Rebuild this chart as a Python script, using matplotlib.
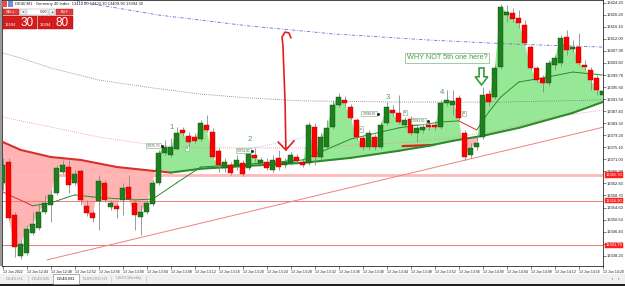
import numpy as np
import matplotlib.pyplot as plt
from matplotlib.patches import Rectangle, FancyArrow
from matplotlib.collections import LineCollection
import matplotlib.transforms as mtransforms

plt.rcParams['font.family'] = ['Liberation Sans', 'DejaVu Sans']

W, H = 625, 286

# DE40 M1 candles, 13 Jun 12:40 .. 14:20
opens = [13363.0, 13370.1, 13352.1, 13338.2, 13339.2, 13346.0, 13347.7, 13353.1, 13355.5, 13359.6,
         13366.7, 13368.4, 13363.0, 13367.1, 13355.2, 13352.8, 13356.9, 13363.0, 13354.8, 13355.2,
         13357.2, 13361.6, 13356.2, 13351.4, 13353.1, 13355.8, 13363.0, 13373.2, 13372.5, 13374.6,
         13381.0, 13379.0, 13378.6, 13377.9, 13382.7, 13380.3, 13373.9, 13368.1, 13369.1, 13368.8,
         13369.8, 13368.1, 13372.5, 13369.8, 13370.1, 13367.4, 13371.5, 13369.1, 13369.8, 13371.8,
         13370.1, 13369.8, 13382.0, 13371.8, 13375.2, 13382.0, 13389.5, 13391.2, 13388.8, 13384.4,
         13378.3, 13375.2, 13378.6, 13375.2, 13383.4, 13387.8, 13386.8, 13382.7, 13384.8, 13380.0,
         13381.0, 13382.7, 13382.7, 13382.0, 13390.2, 13389.5, 13391.9, 13380.0, 13372.5, 13375.2,
         13378.6, 13393.2, 13392.2, 13402.4, 13420.1, 13420.8, 13419.1, 13416.7, 13409.2, 13402.1,
         13398.7, 13397.0, 13403.1, 13403.8, 13412.6, 13408.5, 13409.2, 13403.1, 13401.4, 13398.7,
         13392.9]
highs = [13371.5, 13371.5, 13353.1, 13343.6, 13348.7, 13353.1, 13356.2, 13358.9, 13360.6, 13369.1,
         13370.8, 13370.8, 13367.4, 13367.8, 13357.2, 13353.8, 13365.7, 13364.0, 13357.2, 13356.2,
         13363.0, 13365.7, 13357.2, 13355.5, 13357.2, 13364.0, 13374.2, 13377.6, 13378.3, 13382.0,
         13382.0, 13380.3, 13380.0, 13384.4, 13386.1, 13381.7, 13374.9, 13371.5, 13370.1, 13372.5,
         13370.8, 13374.2, 13374.9, 13371.8, 13371.5, 13372.5, 13374.2, 13371.5, 13373.5, 13372.8,
         13371.1, 13383.7, 13383.4, 13380.0, 13384.4, 13391.2, 13393.6, 13392.6, 13389.8, 13385.1,
         13379.3, 13381.0, 13379.6, 13383.7, 13390.5, 13389.5, 13392.9, 13385.4, 13385.8, 13382.7,
         13383.7, 13384.1, 13384.1, 13391.2, 13394.6, 13394.6, 13392.9, 13381.0, 13376.6, 13378.6,
         13395.6, 13394.6, 13403.1, 13423.8, 13423.5, 13422.5, 13421.8, 13418.4, 13409.9, 13402.8,
         13399.7, 13404.8, 13406.5, 13413.3, 13415.0, 13411.6, 13414.0, 13404.8, 13402.4, 13399.7,
         13394.6]
lows = [13360.6, 13350.4, 13337.8, 13337.1, 13338.5, 13345.3, 13347.0, 13352.4, 13349.7, 13358.9,
        13366.0, 13359.6, 13362.3, 13355.5, 13351.8, 13349.7, 13347.0, 13356.5, 13353.8, 13351.1,
        13352.1, 13357.2, 13347.0, 13345.3, 13352.4, 13355.2, 13362.3, 13372.5, 13371.8, 13374.2,
        13379.0, 13375.2, 13376.6, 13377.3, 13380.3, 13371.5, 13366.7, 13366.7, 13365.7, 13367.4,
        13365.4, 13367.4, 13370.1, 13368.8, 13367.4, 13366.7, 13367.4, 13368.1, 13369.1, 13369.4,
        13368.4, 13369.1, 13369.1, 13370.8, 13374.2, 13381.3, 13388.8, 13388.8, 13384.4, 13377.6,
        13374.2, 13374.2, 13374.2, 13374.6, 13382.7, 13385.8, 13383.0, 13381.7, 13379.3, 13376.9,
        13380.0, 13381.0, 13381.0, 13381.3, 13389.2, 13386.1, 13384.4, 13370.8, 13371.5, 13374.2,
        13377.9, 13389.2, 13391.5, 13401.7, 13417.7, 13417.7, 13415.7, 13409.9, 13401.4, 13397.3,
        13393.9, 13396.0, 13401.4, 13402.8, 13406.5, 13407.5, 13403.1, 13401.4, 13394.6, 13392.9,
        13392.6]
closes = [13369.1, 13351.1, 13341.2, 13342.2, 13347.3, 13349.0, 13353.1, 13356.2, 13358.9, 13368.1,
          13369.1, 13362.3, 13366.0, 13357.2, 13352.8, 13351.1, 13363.7, 13357.2, 13356.2, 13354.1,
          13361.3, 13357.5, 13352.1, 13353.1, 13356.2, 13363.0, 13373.2, 13375.2, 13375.2, 13380.0,
          13380.0, 13376.9, 13377.3, 13383.4, 13381.0, 13371.8, 13369.1, 13370.1, 13366.4, 13370.8,
          13366.0, 13373.2, 13371.5, 13370.8, 13368.1, 13370.8, 13368.4, 13370.1, 13372.5, 13370.5,
          13369.1, 13382.7, 13371.8, 13378.6, 13381.7, 13389.5, 13392.2, 13390.2, 13385.1, 13378.6,
          13375.2, 13380.0, 13375.2, 13382.7, 13388.8, 13386.8, 13383.7, 13384.4, 13380.0, 13381.7,
          13382.0, 13382.0, 13382.0, 13390.2, 13391.2, 13390.9, 13385.1, 13371.8, 13374.9, 13376.6,
          13392.9, 13390.5, 13402.1, 13422.8, 13421.1, 13418.7, 13417.4, 13410.6, 13402.1, 13398.0,
          13397.0, 13403.8, 13405.5, 13412.3, 13408.2, 13409.2, 13403.8, 13402.4, 13398.0, 13394.6,
          13394.3]

# indicator lines read at some bars (bar index, price)
slow_x = [0, 3, 8, 13, 19, 25, 28, 33, 41, 50, 58, 66, 71, 75, 80, 86, 95, 100]
slow_y = [13376.9, 13374.2, 13371.8, 13370.8, 13368.4, 13367.1, 13366.5, 13367.8, 13368.8, 13369.8,
          13371.5, 13373.9, 13375.6, 13377.3, 13379.0, 13381.7, 13386.8, 13390.5]
mid_x = [0, 5, 8, 12, 15, 22, 25, 29, 33, 41, 50, 53, 58, 66, 73, 76, 79, 81, 83, 86, 90, 95, 100]
mid_y = [13359.9, 13355.2, 13356.2, 13358.9, 13358.2, 13357.2, 13357.5, 13363.0, 13368.4, 13369.4,
         13370.8, 13373.5, 13377.9, 13381.7, 13383.7, 13384.1, 13381.0, 13387.1, 13392.2, 13397.3,
         13398.7, 13400.7, 13399.7]
grey_x = [0, 3, 8, 16, 25, 33, 41, 50, 66, 83, 100]
grey_y = [13407.2, 13405.5, 13402.1, 13398.0, 13395.3, 13393.2, 13391.9, 13390.9, 13390.5, 13390.5, 13391.2]
blue_x = [8, 14, 26, 41, 55, 71, 84, 100]
blue_y = [13427.0, 13424.2, 13420.1, 13416.4, 13413.7, 13411.6, 13410.3, 13409.2]
pink_x = [0, 8, 16, 25, 33, 50, 66, 75, 83, 91, 100]
pink_y = [13385.4, 13382.0, 13378.6, 13375.9, 13374.9, 13374.9, 13376.6, 13378.3, 13381.0, 13385.1, 13387.8]
lblue_x = [41, 50, 53]
lblue_y = [13374.6, 13378.3, 13382.7]
trend_x = [7.4, 100.2]
trend_y = [13336.8, 13382.0]
support_x = [66.5, 72.0]
support_y = [13375.5, 13375.9]

levels = [13365.7, 13356.9, 13341.7]
level_tags = ['13365.70', '13356.90', '13341.70']

price_ticks = [13424.20, 13420.20, 13416.10, 13412.00, 13407.90, 13403.80, 13399.70, 13395.60,
               13391.50, 13387.40, 13383.30, 13379.20, 13375.10, 13371.00, 13366.90, 13362.80,
               13358.70, 13354.60, 13350.50, 13346.40, 13342.30, 13338.20]
time_ticks = list(range(0, 101, 4))
time_labels = ['13 Jun 2022', '13 Jun 12:44', '13 Jun 12:48', '13 Jun 12:52', '13 Jun 12:56',
               '13 Jun 13:00', '13 Jun 13:04', '13 Jun 13:08', '13 Jun 13:12', '13 Jun 13:16',
               '13 Jun 13:20', '13 Jun 13:24', '13 Jun 13:28', '13 Jun 13:32', '13 Jun 13:36',
               '13 Jun 13:40', '13 Jun 13:44', '13 Jun 13:48', '13 Jun 13:52', '13 Jun 13:56',
               '13 Jun 14:00', '13 Jun 14:04', '13 Jun 14:08', '13 Jun 14:12', '13 Jun 14:16',
               '13 Jun 14:20']

wave_labels = ['1', '2', '3', '4']
wave_x = [28.2, 41.2, 64.2, 73.2]
wave_y = [13382.0, 13377.6, 13391.9, 13393.6]

box_x = [25.1, 40.1, 61.05, 69.3]
box_y = [13375.7, 13374.0, 13386.6, 13383.9]
box_txt = ['13375.70', '13374.00', '13386.60', '13383.90']
sq_x = [30.7, 67.0, 59.7, 76.9]
sq_y = [13374.7, 13386.9, 13381.3, 13386.6]

GREEN = '#1f7f1f'
RED = '#ff0000'

fig = plt.figure(figsize=(W / 100, H / 100), dpi=100)
ax = fig.add_axes([2 / W, 20 / H, 601 / W, 266 / H])
ax.set_xlim(-0.12, 100.05)
ax.set_ylim(13334.71, 13425.22)

o, h, l, c = map(np.array, (opens, highs, lows, closes))
idx = np.arange(len(c))

# cloud between close and slow line
sl = np.interp(idx, slow_x, slow_y)
ax.fill_between(idx, c, sl, where=c >= sl, interpolate=True, color='#96e896', lw=0, zorder=1)
ax.fill_between(idx, c, sl, where=c < sl, interpolate=True, color='#ffb3b3', lw=0, zorder=1)

# horizontal levels
ax.axhline(levels[0], color='#ffb8b8', lw=2, zorder=1.5)
ax.axhline(levels[1], color='#f07878', lw=0.7, zorder=1.5)
ax.axhline(levels[2], color='#f07878', lw=0.7, zorder=1.5)

ax.plot(grey_x, grey_y, color='#777777', lw=0.6, ls=(0, (1, 1.5)), zorder=2)
ax.plot(blue_x, blue_y, color='#6a6ae0', lw=0.6, ls=(0, (4, 2, 1, 2)), zorder=2)
ax.plot(pink_x, pink_y, color='#f08c8c', lw=0.6, ls=(0, (1, 1.5)), zorder=2)
ax.plot(lblue_x, lblue_y, color='#8cc0f0', lw=0.6, ls=(0, (1, 1.5)), zorder=2)
ax.plot(trend_x, trend_y, color='#f08080', lw=0.7, zorder=2)
ax.plot(support_x, support_y, color='#e02020', lw=1.6, zorder=2, solid_capstyle='butt')


def slope_line(xs, ys, lw, tol):
    xs = np.asarray(xs, float)
    ys = np.asarray(ys, float)
    pts = np.column_stack([xs, ys])
    segs = np.stack([pts[:-1], pts[1:]], axis=1)
    slope = np.diff(ys) / np.diff(xs)
    cols = ['#d83030' if s < -tol else '#2d8a2d' for s in slope]
    ax.add_collection(LineCollection(segs, colors=cols, linewidths=lw, zorder=3,
                                     capstyle='round', joinstyle='round'))


slope_line(slow_x, slow_y, 1.5, 0.0)
slope_line(mid_x, mid_y, 0.7, 0.3)

# candles
up = c >= o
ax.vlines(idx, l, h, color='#8a8a8a', lw=0.6, zorder=4)
lo = np.minimum(o, c)
hh = np.maximum(np.abs(c - o), 0.4)
ax.bar(idx[up], hh[up], 0.75, bottom=lo[up], color=GREEN, edgecolor='#0e4f0e', lw=0.3, zorder=5)
ax.bar(idx[~up], hh[~up], 0.75, bottom=lo[~up], color=RED, edgecolor='#c00000', lw=0.3, zorder=5)

# annotations
for s, x, y in zip(wave_labels, wave_x, wave_y):
    ax.text(x, y, s, color='#4f9f4f', fontsize=5.5, ha='center', va='center', zorder=6)
for x, y, s in zip(box_x, box_y, box_txt):
    ax.text(x, y, s, fontsize=2.3, color='#555555', ha='center', va='center', zorder=6,
            bbox=dict(boxstyle='square,pad=0.3', fc='white', ec='#6ab46a', lw=0.4))
    ax.plot(x + 1.5, y, 's', ms=1.0, color='#222222', zorder=6)
for x, y in zip(sq_x, sq_y):
    ax.text(x, y, '\u2261', fontsize=2.5, color='#555555', ha='center', va='center', zorder=6,
            bbox=dict(boxstyle='square,pad=0.25', fc='white', ec='#6ab46a', lw=0.4))

ax.text(74.1, 13405.5, 'WHY NOT 5th one here?', fontsize=5.2, color='#4a9a4a', ha='center',
        va='center', zorder=7,
        bbox=dict(boxstyle='square,pad=0.25', fc='white', ec='#7ab87a', lw=0.5))
ax.add_patch(FancyArrow(79.8, 13402.1, 0, -5.8, width=0.8, head_width=2.1, head_length=2.8,
                        length_includes_head=True, fill=False, ec='#3c9c3c', lw=1.2, zorder=7))

# red hand-drawn arrow
arr_x = [48.05, 47.7, 47.05, 46.55, 46.7, 47.05, 47.2]
arr_y = [13412.3, 13414.0, 13414.3, 13412.6, 13409.9, 13391.2, 13374.2]
ax.plot(arr_x, arr_y, color='#e02020', lw=1.2, zorder=7, solid_capstyle='round')
ax.plot([45.9, 47.2, 48.55], [13376.9, 13374.2, 13377.3], color='#e02020', lw=1.2, zorder=7,
        solid_capstyle='round')

# axes cosmetics
for sp in ax.spines.values():
    sp.set_linewidth(0.5)
    sp.set_color('#000000')
ax.yaxis.tick_right()
ax.set_yticks(price_ticks)
ax.set_yticklabels(['%.2f' % v for v in price_ticks])
ax.set_xticks(time_ticks)
ax.set_xticklabels(time_labels, ha='left')
ax.tick_params(axis='y', labelsize=3.0, length=2, width=0.4, pad=1, colors='#222222')
ax.tick_params(axis='x', labelsize=2.6, length=2, width=0.4, pad=1, colors='#222222')

btrans = mtransforms.blended_transform_factory(ax.transAxes, ax.transData)
for v, s in zip(levels, level_tags):
    ax.text(1.004, v, s, transform=btrans, fontsize=2.9, color='white', va='center', ha='left',
            zorder=8, clip_on=False,
            bbox=dict(boxstyle='square,pad=0.15', fc='#ff2020', ec='#ff2020', lw=0.3))


# overlay elements in pixel positions
def frect(x0, y0, x1, y1, **kw):
    fig.add_artist(Rectangle((x0 / W, 1 - y1 / H), (x1 - x0) / W, (y1 - y0) / H,
                             transform=fig.transFigure, **kw))


def ftext(x, y, s, **kw):
    fig.text(x / W, 1 - y / H, s, **kw)


frect(0, 0, 2, 266, fc='#9a9a9a', ec='none')

# header
frect(2, 1, 7, 7, fc='#e05050', ec='none')
frect(8, 1, 13, 7, fc='#6f8fd8', ec='none')
ftext(15, 4, 'DE40,M1 \u00b7 Germany 40 Index  13410.00 13422.30 13409.90 13394.30',
      fontsize=3, color='#222222', va='center')

# one-click trading panel
frect(3, 8.5, 19, 15, fc='#e23a3a', ec='#b01818', lw=0.3)
ftext(11, 11.8, 'SELL', fontsize=2.8, color='white', ha='center', va='center')
frect(20, 8.5, 26, 15, fc='#eeeeee', ec='#999999', lw=0.3)
ftext(23, 11.8, '\u25bc', fontsize=2.3, color='#444444', ha='center', va='center')
frect(27, 8.5, 48, 15, fc='white', ec='#999999', lw=0.3)
ftext(47, 11.8, '5.00', fontsize=2.8, color='#222222', ha='right', va='center')
frect(49, 8.5, 55, 15, fc='#eeeeee', ec='#999999', lw=0.3)
ftext(52, 11.8, '\u25b2', fontsize=2.3, color='#444444', ha='center', va='center')
frect(56, 8.5, 73, 15, fc='#e23a3a', ec='#b01818', lw=0.3)
ftext(64.5, 11.8, 'BUY', fontsize=2.8, color='white', ha='center', va='center')
frect(3, 16, 37, 29, fc='#d41c1c', ec='#a01010', lw=0.3)
frect(38, 16, 73, 29, fc='#d41c1c', ec='#a01010', lw=0.3)
ftext(4.5, 25.5, '13394', fontsize=3, color='white', va='center')
ftext(21, 22.5, '30', fontsize=8.5, color='white', va='center')
ftext(39.5, 25.5, '13394', fontsize=3, color='white', va='center')
ftext(56, 22.5, '80', fontsize=8.5, color='white', va='center')

# tab bar
frect(0, 273.5, 625, 284, fc='#f0f0f0', ec='none')
frect(0, 284, 625, 286, fc='#1e1e1e', ec='none')
tabs = ['DE40,H1', 'DE40,M5', 'DE40,M1', 'EURUSD,H1', 'US30,Weekly']
tab_x0 = [2, 28, 53, 79, 111]
tab_x1 = [28, 53, 79, 111, 146]
for i, (t, a, b) in enumerate(zip(tabs, tab_x0, tab_x1)):
    if i == 2:
        frect(a, 273.5, b, 283.5, fc='white', ec='#777777', lw=0.4)
        col = '#111111'
    else:
        fig.add_artist(plt.Line2D([b / W, b / W], [1 - 282 / H, 1 - 275.5 / H],
                                  transform=fig.transFigure, color='#c0c0c0', lw=0.4))
        col = '#9a9a9a'
    ftext((a + b) / 2, 278.5, t, fontsize=3.2, color=col, ha='center', va='center')
ftext(612, 278.5, '\u25c2', fontsize=3, color='#aaaaaa', ha='center', va='center')
ftext(619, 278.5, '\u25b8', fontsize=3, color='#aaaaaa', ha='center', va='center')

fig.savefig('out.png', dpi=100, facecolor='white')
